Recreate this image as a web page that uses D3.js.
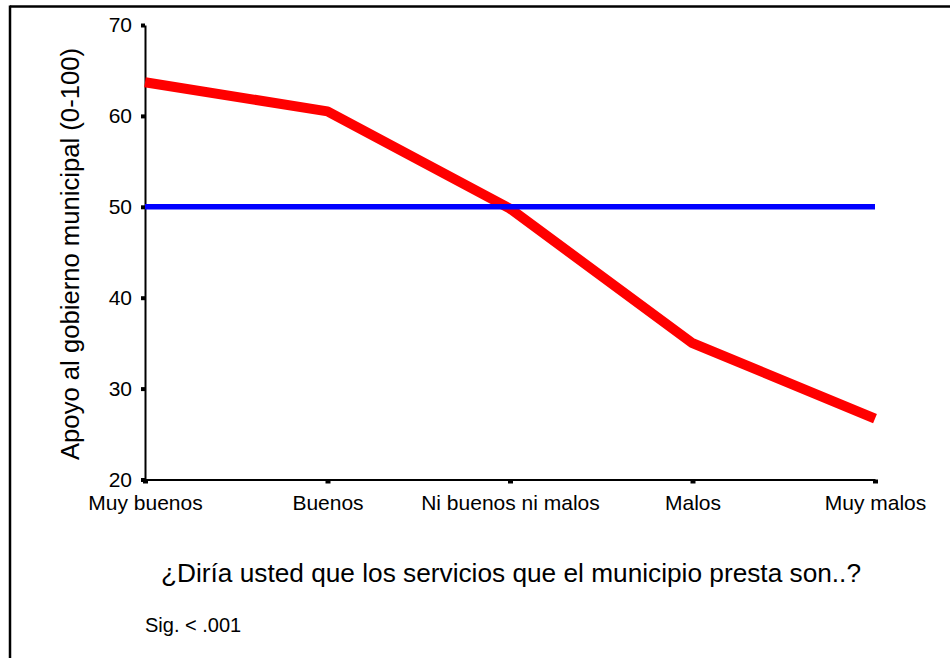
<!DOCTYPE html>
<html>
<head>
<meta charset="utf-8">
<script src="https://cdn.jsdelivr.net/npm/d3@7"></script>
<style>
  html, body { margin: 0; padding: 0; background: #fff; }
  svg { display: block; font-family: "Liberation Sans", Arial, sans-serif; }
</style>
</head>
<body>
<svg id="chart" width="950" height="658"></svg>
<script>
const categories = ["Muy buenos", "Buenos", "Ni buenos ni malos", "Malos", "Muy malos"];
const apoyo = [63.7, 60.5, 49.8, 35.0, 26.7];
const referencia = [50, 50, 50, 50, 50];
const yTicks = [20, 30, 40, 50, 60, 70];
const yTitle = "Apoyo al gobierno municipal (0-100)";
const xTitle = "¿Diría usted que los servicios que el municipio presta son..?";
const note = "Sig. < .001";

const svg = d3.select("#chart");

// frame (top and left edges)
svg.append("line").attr("x1", 10).attr("x2", 950).attr("y1", 6.5).attr("y2", 6.5)
  .attr("stroke", "#000").attr("stroke-width", 2.5);
svg.append("line").attr("x1", 10).attr("x2", 10).attr("y1", 5.5).attr("y2", 658)
  .attr("stroke", "#000").attr("stroke-width", 2.5);

const x = d3.scalePoint().domain(categories).range([145, 875]);
const y = d3.scaleLinear().domain([20, 70]).range([479.5, 25]);

// Y axis
const yAxis = svg.append("g").attr("transform", "translate(145,0)")
  .call(d3.axisLeft(y).tickValues(yTicks).tickSize(4).tickSizeOuter(0).tickPadding(9).tickFormat(d3.format("d")));
yAxis.select(".domain").attr("stroke-width", 2);
yAxis.selectAll(".tick line").attr("stroke-width", 4);
yAxis.selectAll(".tick text").attr("font-size", 21).attr("fill", "#000")
  .attr("font-family", "Liberation Sans, Arial, sans-serif");

// X axis
const xAxis = svg.append("g").attr("transform", "translate(0,479.5)")
  .call(d3.axisBottom(x).tickSize(4).tickSizeOuter(0).tickPadding(12));
xAxis.select(".domain").attr("stroke-width", 2);
xAxis.selectAll(".tick line").attr("stroke-width", 5);
xAxis.selectAll(".tick text").attr("font-size", 21).attr("fill", "#000")
  .attr("font-family", "Liberation Sans, Arial, sans-serif");

// Lines
const line = d3.line().x((d, i) => x(categories[i])).y(d => y(d));
svg.append("path").datum(apoyo).attr("d", line)
  .attr("fill", "none").attr("stroke", "#ff0000").attr("stroke-width", 10)
  .attr("stroke-linejoin", "round");
svg.append("path").datum(referencia).attr("d", line)
  .attr("fill", "none").attr("stroke", "#0000ff").attr("stroke-width", 5.5);

// Y title
svg.append("text")
  .attr("transform", "translate(79,254) rotate(-90)")
  .attr("text-anchor", "middle")
  .attr("font-size", 25)
  .attr("textLength", 412).attr("lengthAdjust", "spacingAndGlyphs")
  .text(yTitle);

// X title
svg.append("text")
  .attr("x", 511).attr("y", 582)
  .attr("text-anchor", "middle")
  .attr("font-size", 25)
  .attr("textLength", 700).attr("lengthAdjust", "spacingAndGlyphs")
  .text(xTitle);

// Note
svg.append("text")
  .attr("x", 145).attr("y", 632)
  .attr("font-size", 20)
  .text(note);
</script>
</body>
</html>
